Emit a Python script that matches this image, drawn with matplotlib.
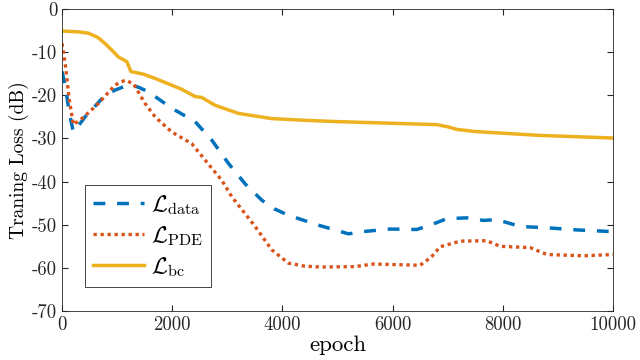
import matplotlib
matplotlib.use('Agg')
import matplotlib.pyplot as plt

plt.rcParams['font.family'] = ['cmr10', 'DejaVu Serif']
plt.rcParams['mathtext.fontset'] = 'cm'
plt.rcParams['axes.unicode_minus'] = False
plt.rcParams['axes.formatter.use_mathtext'] = False

# данные
ep_data = [0, 60, 130, 205, 300, 417, 600, 780, 960, 1143, 1264, 1400, 1566, 1990, 2414, 2717, 3020, 3320, 3624,
           3850, 4107, 4652, 5196, 5530, 5950, 6437, 6700, 6980, 7345, 7646, 7888, 8100, 8312, 8797, 9340, 10000]
loss_data = [-14.5, -18, -24, -28.5, -27, -25, -22.5, -20, -18.8, -17.9, -17.6, -18.2, -19.2, -23, -26.1, -30.4,
             -35.8, -40.5, -44.3, -46.3, -47.8, -50.1, -52.1, -51.5, -51.0, -51.1, -50.0, -48.6, -48.4, -49.0,
             -48.8, -49.6, -50.4, -50.7, -51.2, -51.6]

ep_pde = [0, 60, 130, 205, 357, 500, 659, 962, 1143, 1294, 1506, 1688, 1990, 2353, 2595, 2898, 3080, 3503,
          3805, 4107, 4400, 4713, 5318, 5650, 6497, 6700, 6860, 7223, 7707, 7950, 8494, 8797, 9462, 10000]
loss_pde = [-8, -13, -21, -26.8, -25.4, -23.8, -21.9, -17.6, -16.5, -17.3, -21.9, -25, -28.5, -31.2, -35, -39.7,
            -43.5, -50.4, -55.8, -58.9, -59.6, -59.8, -59.7, -59.1, -59.4, -57.5, -55.1, -53.8, -53.7, -55.0,
            -55.3, -56.9, -57.2, -56.9]

ep_bc = [0, 300, 478, 650, 780, 900, 1020, 1175, 1250, 1475, 1690, 2170, 2415, 2535, 2775, 3200, 3805, 4410,
         5000, 5771, 6800, 7000, 7163, 7500, 8675, 10000]
loss_bc = [-5.1, -5.3, -5.6, -6.6, -8.0, -9.5, -11.1, -12.2, -14.5, -15.1, -16.1, -18.6, -20.3, -20.5, -22.3,
           -24.2, -25.4, -25.8, -26.1, -26.4, -26.8, -27.3, -27.9, -28.4, -29.3, -29.9]

fig = plt.figure(figsize=(6.4, 3.6), dpi=100)
ax = fig.add_axes([0.097, 0.136, 0.861, 0.839])

l1, = ax.plot(ep_data, loss_data, '--', color='#0072BD', lw=2.5, label=r'$\mathcal{L}_{\rm data}$')
l1.set_dashes((3.4, 3.4))
l2, = ax.plot(ep_pde, loss_pde, ':', color='#D95319', lw=2.4, label=r'$\mathcal{L}_{\rm PDE}$')
l2.set_dashes((1, 1.1))
ax.plot(ep_bc, loss_bc, '-', color='#EDB120', lw=2.5, label=r'$\mathcal{L}_{\rm bc}$')

ax.set_xlim(0, 10000)
ax.set_ylim(-70, 0)
ax.set_xticks(range(0, 10001, 2000))
ax.set_yticks(range(-70, 1, 10))
ax.tick_params(direction='in', top=True, right=True, labelsize=13.5, colors='#262626', length=4)
for s in ax.spines.values():
    s.set_color('#262626')
    s.set_linewidth(0.6)

ax.set_xlabel('epoch', fontsize=16.5, labelpad=1)
ax.set_ylabel('Traning Loss (dB)', fontsize=14, labelpad=2)

leg = ax.legend(loc='lower left', bbox_to_anchor=(0.042, 0.08), fontsize=16.5, fancybox=False,
                framealpha=1, edgecolor='#262626', borderaxespad=0, handlelength=2.2,
                labelspacing=0.3, borderpad=0.35, handletextpad=0.3)
leg.get_frame().set_linewidth(0.6)

fig.savefig('out.png', dpi=100)
